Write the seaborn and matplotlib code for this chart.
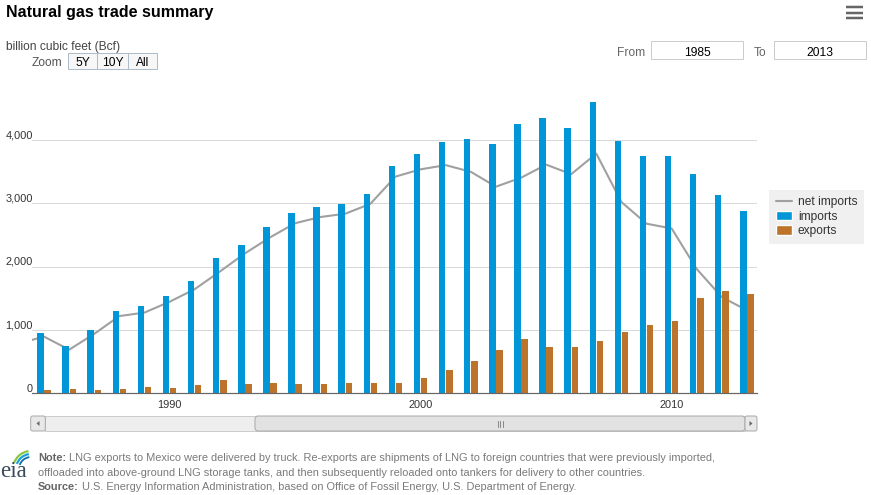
import matplotlib
matplotlib.use("Agg")
from matplotlib import pyplot as plt
from matplotlib.lines import Line2D
from matplotlib.patches import Patch, Rectangle, FancyBboxPatch, Polygon, Arc
from matplotlib.transforms import ScaledTranslation
import numpy as np
import pandas as pd
import seaborn as sns

# Data (billion cubic feet)
years = list(range(1984, 2014))
imports = [843, 950, 750, 993, 1294, 1382, 1532, 1773, 2138, 2350,
           2624, 2841, 2937, 2994, 3152, 3586, 3782, 3977, 4015, 3944,
           4259, 4341, 4186, 4608, 3984, 3751, 3741, 3469, 3138, 2883]
exports = [55, 55, 61, 54, 74, 107, 86, 129, 216, 140,
           162, 154, 153, 157, 159, 163, 244, 373, 516, 680,
           854, 729, 724, 822, 963, 1072, 1137, 1506, 1619, 1572]
net_imports = [788, 895, 689, 939, 1220, 1275, 1446, 1644, 1922, 2210,
               2462, 2687, 2784, 2837, 2993, 3423, 3538, 3604, 3499, 3264,
               3405, 3612, 3462, 3786, 3021, 2679, 2604, 1963, 1519, 1311]

ytick_vals = [0, 1000, 2000, 3000, 4000]
ytick_labels = ["0", "1,000", "2,000", "3,000", "4,000"]
xtick_vals = [1990, 2000, 2010]

BLUE = "#0096d7"
BROWN = "#bd732a"
GRAY = "#a0a0a0"

W, H = 871, 495
sns.set_style("white")
plt.rcParams["font.family"] = ["Liberation Sans", "DejaVu Sans"]

fig = plt.figure(figsize=(W / 100, H / 100), dpi=100)

# overlay axes in pixel coordinates for the page furniture
over = fig.add_axes([0, 0, 1, 1])
over.set_xlim(0, W)
over.set_ylim(H, 0)
over.axis("off")
over.patch.set_alpha(0)
over.set_zorder(0)

def px(v):
    return v * 0.72

# main plot
ax = fig.add_axes([32 / W, (H - 393.3) / H, 725 / W, 303.3 / H])
ax.set_zorder(1)
ax.patch.set_alpha(0)

bars = pd.DataFrame({
    "year": years * 2,
    "flow": ["imports"] * len(years) + ["exports"] * len(years),
    "value": imports + exports,
})
sns.barplot(data=bars, x="year", y="value", hue="flow",
            hue_order=["imports", "exports"],
            palette={"imports": BLUE, "exports": BROWN},
            native_scale=True, width=0.57, gap=0.1, saturation=1,
            errorbar=None, legend=False, linewidth=0, zorder=2, ax=ax)
sns.lineplot(x=years, y=net_imports, color=GRAY, linewidth=1.5, zorder=1, ax=ax)

ax.set_xlim(1984.52, 2013.40)
ax.set_ylim(0, 4791)
ax.set_xlabel("")
ax.set_ylabel("")

ax.set_yticks(ytick_vals)
ax.set_yticklabels([])
ax.tick_params(axis="y", length=0)
ax.yaxis.grid(True, color="#d8d8d8", linewidth=px(1))
ax.set_axisbelow(True)
lab_tr = ax.get_yaxis_transform() + ScaledTranslation(1 / 100, 1.7 / 100, fig.dpi_scale_trans)
for v, s in zip(ytick_vals, ytick_labels):
    ax.text(0, v, s, transform=lab_tr, ha="right", va="baseline",
            fontsize=px(11), color="#333333")

ax.set_xticks(xtick_vals)
ax.set_xticklabels([str(y) for y in xtick_vals])
ax.tick_params(axis="x", length=px(4), width=px(1), color="#999999", pad=px(3),
               labelsize=px(11), labelcolor="#333333")

for side in ["left", "right", "top"]:
    ax.spines[side].set_visible(False)
ax.spines["bottom"].set_color("#666666")
ax.spines["bottom"].set_linewidth(px(1.2))

handles = [Line2D([0], [0], color=GRAY, lw=1.5),
           Patch(facecolor=BLUE), Patch(facecolor=BROWN)]
leg = ax.legend(handles, ["net imports", "imports", "exports"],
                loc="upper left", bbox_to_anchor=(769 / W, 1 - 189.5 / H),
                bbox_transform=fig.transFigure, frameon=True, fancybox=False,
                facecolor="#f0f0f0", edgecolor="none", framealpha=1,
                fontsize=px(12), handlelength=1.35, handleheight=0.85,
                handletextpad=0.5, labelspacing=0.22, borderpad=0.55,
                borderaxespad=0)
for t in leg.get_texts():
    t.set_color("#333333")

# title and header
over.text(6, 16.5, "Natural gas trade summary", fontsize=px(16), weight="bold",
          va="baseline", color="#000000")
over.text(6, 50, "billion cubic feet (Bcf)", fontsize=px(12), va="baseline", color="#444444")
over.text(32, 65.5, "Zoom", fontsize=px(12), va="baseline", color="#555555")
edges = [67.7, 97.3, 127.7, 157.3]
for (x0, x1), s in zip(zip(edges[:-1], edges[1:]), ["5Y", "10Y", "All"]):
    over.add_patch(FancyBboxPatch((x0, 53.3), x1 - x0, 16, boxstyle="square,pad=0",
                                  facecolor="#f7f7f7", edgecolor="#aebbc8", linewidth=px(1)))
    over.text((x0 + x1) / 2, 65.5, s, fontsize=px(12), ha="center", va="baseline", color="#000000")

over.text(617, 55.5, "From", fontsize=px(12), va="baseline", color="#666666")
over.text(754, 55.5, "To", fontsize=px(12), va="baseline", color="#666666")
for x0, x1, s in [(651, 743, "1985"), (773.5, 866, "2013")]:
    over.add_patch(Rectangle((x0, 40.5), x1 - x0, 18.5, facecolor="white",
                             edgecolor="#cccccc", linewidth=px(1)))
    over.text((x0 + x1) / 2, 55.5, s, fontsize=px(12), ha="center", va="baseline", color="#000000")

# menu icon
for yy in [6.5, 12.5, 17.5]:
    over.plot([846, 862.5], [yy, yy], color="#666666", lw=px(2.5), solid_capstyle="butt")

# scrollbar under the plot
over.add_patch(Rectangle((45.3, 416), 745 - 45.3, 15, facecolor="#eeeeee",
                         edgecolor="#cccccc", linewidth=px(1)))
over.add_patch(FancyBboxPatch((255, 416), 490, 15, boxstyle="round,pad=0,rounding_size=3",
                              facecolor="#e2e2e2", edgecolor="#aaaaaa", linewidth=px(1)))
for xx in [497.5, 500, 502.5]:
    over.plot([xx, xx], [420.5, 426.5], color="#888888", lw=px(1))
over.add_patch(FancyBboxPatch((30.7, 416), 14.6, 15, boxstyle="round,pad=0,rounding_size=2",
                              facecolor="#e8e8e8", edgecolor="#aaaaaa", linewidth=px(1)))
over.add_patch(Polygon([[36.5, 423.5], [39.5, 421], [39.5, 426]], closed=True,
                       facecolor="#666666", edgecolor="none"))
over.add_patch(FancyBboxPatch((745, 416), 12, 15, boxstyle="round,pad=0,rounding_size=2",
                              facecolor="#e8e8e8", edgecolor="#aaaaaa", linewidth=px(1)))
over.add_patch(Polygon([[752.5, 423.5], [749.5, 421], [749.5, 426]], closed=True,
                       facecolor="#666666", edgecolor="none"))

# eia logo
for r, c, lw in [(18, "#8cc63f", 2.2), (15, "#1aa0d8", 2.2), (12, "#0b6fa4", 1.8)]:
    over.add_patch(Arc((31, 469), 2 * r, 2 * r, theta1=200, theta2=262,
                       color=c, lw=px(lw)))
over.text(0.5, 477, "eia", fontsize=px(23), family=["Liberation Serif", "DejaVu Serif"],
          va="baseline", color="#3c4b5c")

# footnote
renderer = fig.canvas.get_renderer()
foot = [
    (461, "Note:", "LNG exports to Mexico were delivered by truck. Re-exports are shipments of LNG to foreign countries that were previously imported,"),
    (475.5, None, "offloaded into above-ground LNG storage tanks, and then subsequently reloaded onto tankers for delivery to other countries."),
    (490, "Source:", "U.S. Energy Information Administration, based on Office of Fossil Energy, U.S. Department of Energy."),
]
for yy, bold, rest in foot:
    x = 38
    if bold:
        tb = over.text(x, yy, bold, fontsize=px(11), weight="bold", va="baseline", color="#666666")
        x = tb.get_window_extent(renderer=renderer).x1 + 3
    over.text(x, yy, rest, fontsize=px(11), va="baseline", color="#7a7a7a")

fig.savefig("out.png", dpi=100)
